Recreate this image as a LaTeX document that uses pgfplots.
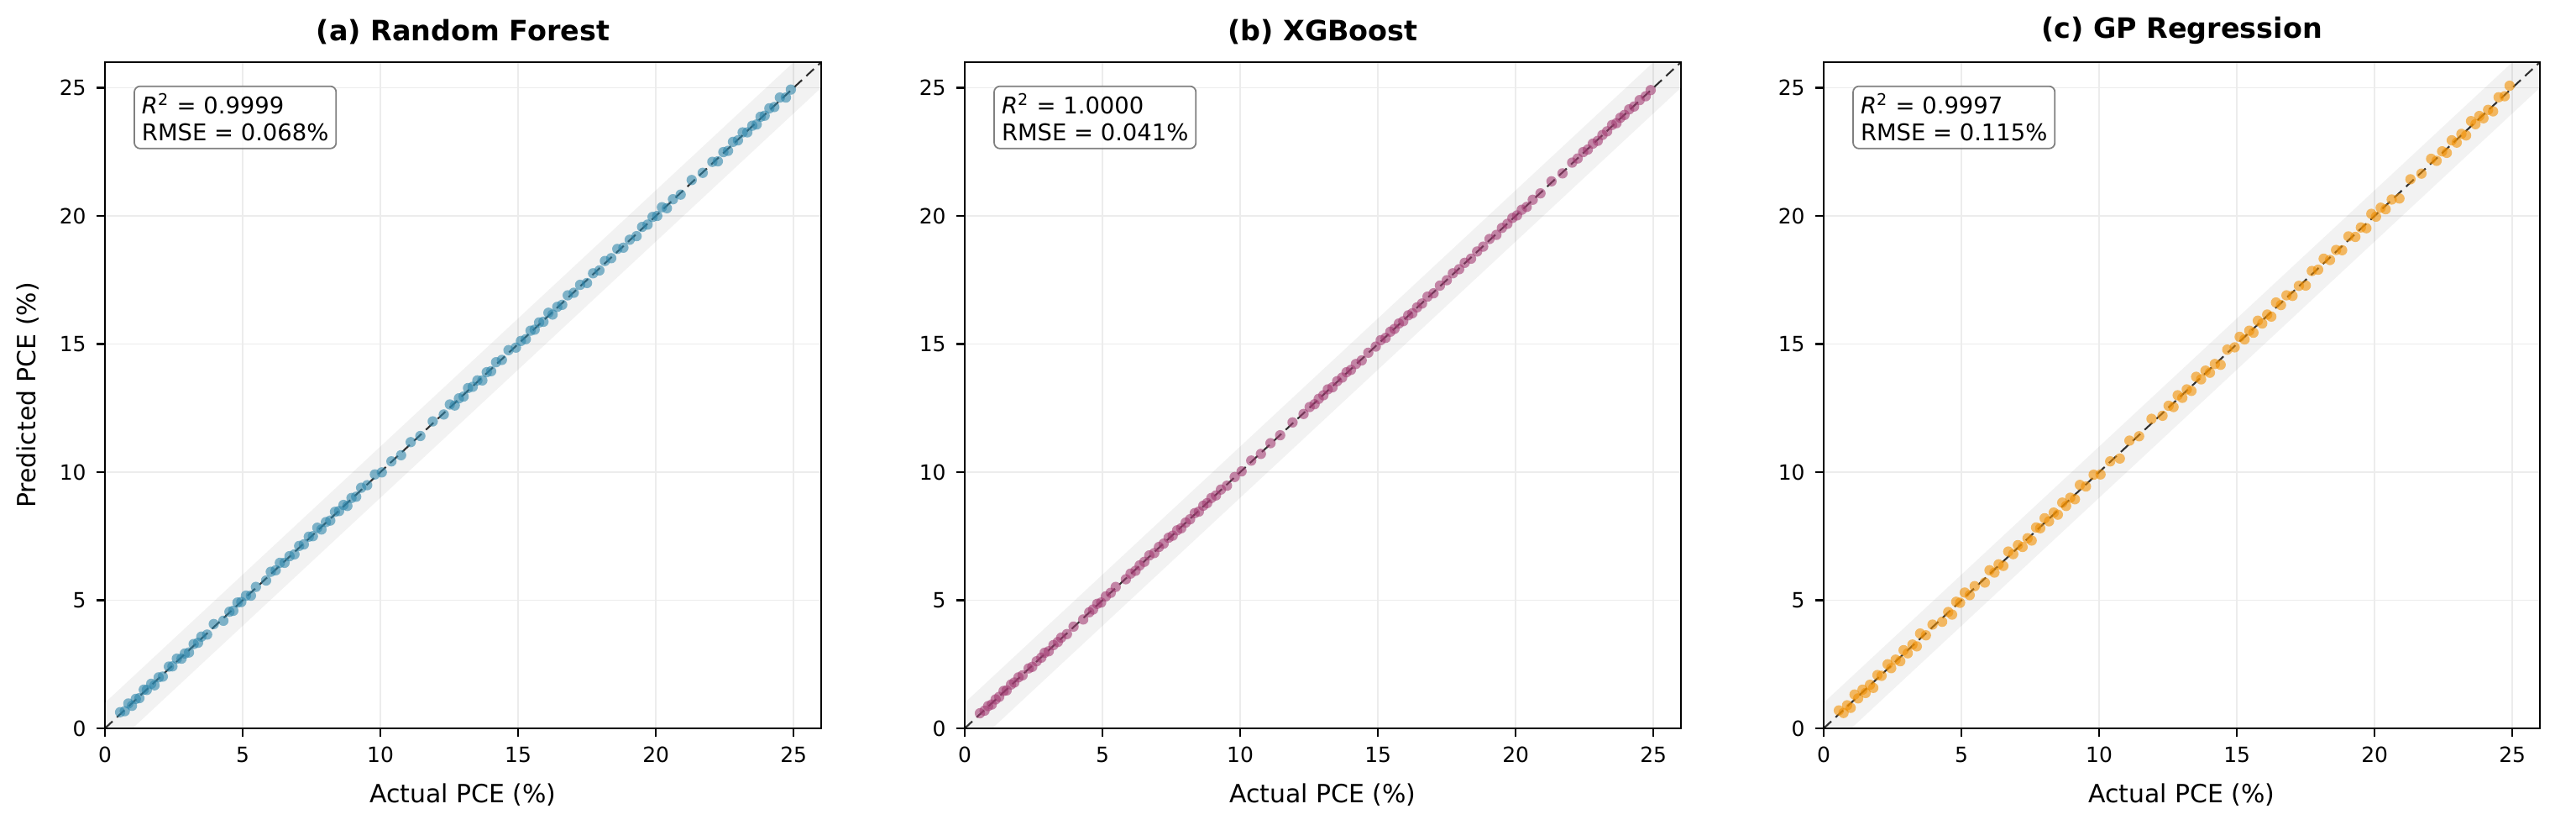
\documentclass[border=0pt]{standalone}
\usepackage{pgfplots}
\pgfplotsset{compat=1.18}
\usepackage{pgfplotstable}
\usepackage{fontspec}
\setmainfont{DejaVu Sans}
\definecolor{cRF}{HTML}{2E86AB}
\definecolor{cXG}{HTML}{A23B72}
\definecolor{cGP}{HTML}{F18F01}
\pgfplotstableread{
x yrf yxgb ygp
0.55 0.63 0.59 0.70
0.72 0.67 0.69 0.60
0.85 0.97 0.87 0.90
0.98 0.88 0.93 0.80
1.12 1.15 1.13 1.32
1.25 1.18 1.23 1.17
1.41 1.51 1.46 1.51
1.52 1.50 1.48 1.38
1.68 1.74 1.71 1.70
1.80 1.68 1.79 1.58
1.95 1.99 1.99 2.08
2.10 2.02 2.07 2.05
2.32 2.41 2.34 2.50
2.45 2.42 2.40 2.35
2.61 2.72 2.62 2.68
2.78 2.72 2.76 2.62
2.90 2.92 2.95 3.05
3.05 2.96 3.01 2.93
3.22 3.29 3.25 3.27
3.38 3.34 3.37 3.20
3.50 3.58 3.54 3.70
3.71 3.66 3.68 3.63
3.95 4.07 3.97 4.05
4.30 4.20 4.25 4.16
4.52 4.55 4.53 4.54
4.66 4.59 4.64 4.44
4.81 4.91 4.86 4.94
4.95 4.93 4.91 4.90
5.12 5.18 5.15 5.30
5.30 5.18 5.29 5.20
5.48 5.52 5.52 5.55
5.85 5.77 5.82 5.69
6.02 6.11 6.04 6.17
6.20 6.17 6.15 6.08
6.35 6.46 6.36 6.40
6.52 6.46 6.50 6.34
6.70 6.72 6.75 6.90
6.88 6.79 6.84 6.80
7.05 7.12 7.08 7.15
7.22 7.18 7.21 7.08
7.40 7.48 7.44 7.42
7.55 7.50 7.52 7.33
7.71 7.83 7.73 7.84
7.86 7.76 7.81 7.81
8.02 8.05 8.03 8.20
8.18 8.11 8.16 8.08
8.35 8.45 8.40 8.42
8.50 8.48 8.46 8.34
8.66 8.72 8.69 8.81
8.80 8.68 8.79 8.68
8.95 8.99 8.99 9.00
9.12 9.04 9.09 8.94
9.30 9.39 9.32 9.50
9.52 9.49 9.47 9.44
9.80 9.91 9.81 9.90
10.05 9.99 10.03 9.91
10.40 10.42 10.45 10.42
10.75 10.66 10.71 10.53
11.10 11.17 11.13 11.23
11.45 11.41 11.44 11.40
11.90 11.98 11.94 12.08
12.30 12.25 12.27 12.20
12.52 12.64 12.54 12.59
12.70 12.60 12.65 12.54
12.85 12.88 12.86 13.00
13.02 12.95 13.00 12.90
13.18 13.28 13.23 13.23
13.35 13.33 13.31 13.17
13.52 13.58 13.55 13.72
13.70 13.58 13.69 13.62
13.86 13.90 13.90 13.96
14.02 13.94 13.99 13.88
14.20 14.29 14.22 14.22
14.41 14.38 14.36 14.19
14.65 14.76 14.66 14.78
14.92 14.86 14.90 14.87
15.10 15.12 15.15 15.28
15.28 15.19 15.24 15.18
15.45 15.52 15.48 15.52
15.60 15.56 15.59 15.44
15.76 15.84 15.80 15.91
15.92 15.87 15.89 15.80
16.10 16.22 16.12 16.15
16.25 16.15 16.20 16.07
16.42 16.45 16.43 16.62
16.60 16.53 16.58 16.52
16.80 16.90 16.85 16.90
17.02 17.00 16.98 16.88
17.25 17.31 17.28 17.27
17.50 17.38 17.49 17.28
17.72 17.76 17.76 17.85
17.95 17.87 17.92 17.90
18.15 18.24 18.17 18.33
18.38 18.35 18.33 18.28
18.60 18.71 18.61 18.67
18.82 18.76 18.80 18.66
19.05 19.07 19.10 19.20
19.30 19.21 19.26 19.18
19.50 19.57 19.53 19.55
19.70 19.66 19.69 19.52
19.88 19.96 19.92 20.08
20.05 20.00 20.02 19.97
20.22 20.34 20.24 20.32
20.40 20.30 20.35 20.26
20.62 20.65 20.63 20.64
20.90 20.83 20.88 20.68
21.30 21.40 21.35 21.43
21.70 21.68 21.66 21.65
22.05 22.11 22.08 22.23
22.25 22.13 22.24 22.15
22.45 22.49 22.49 22.52
22.62 22.54 22.59 22.46
22.80 22.89 22.82 22.95
22.98 22.95 22.93 22.86
23.15 23.26 23.16 23.20
23.32 23.26 23.30 23.14
23.50 23.52 23.55 23.70
23.66 23.57 23.62 23.58
23.80 23.87 23.83 23.90
23.95 23.91 23.94 23.81
24.12 24.20 24.16 24.14
24.30 24.25 24.27 24.08
24.50 24.62 24.52 24.63
24.72 24.62 24.67 24.67
24.90 24.93 24.91 25.08
}\data
\pgfplotsset{
  myax/.style={
    scale only axis, width=8.53cm, height=7.93cm,
    anchor=south west,
    xmin=0, xmax=26, ymin=0, ymax=26,
    xtick={0,5,...,25}, ytick={0,5,...,25},
    tick pos=left,
    tick align=outside, major tick length=0.1cm,
    tick style={black, line width=0.6pt},
    axis line style={black, line width=0.8pt},
    grid=major, major grid style={gray!15, line width=0.5pt},
    /pgf/number format/assume math mode=true,
    tick label style={font=\fontsize{7.1}{8.5}\selectfont},
    label style={font=\fontsize{8.5}{10}\selectfont},
    xlabel={Actual PCE (\%)},
    title style={font=\fontsize{9.5}{11}\selectfont\bfseries, yshift=-3.5pt},
    clip=true,
  },
  band/.style={draw=none, fill=gray, fill opacity=0.1, forget plot},
  diag/.style={black, opacity=0.8, dash pattern=on 3.5pt off 2pt, line width=0.6pt, forget plot},
  pts/.style={only marks, mark=*, color=#1, mark size=1.75pt, mark options={fill=#1, fill opacity=0.6, draw opacity=0}},
}
\tikzset{
  infobox/.style={draw=gray, fill=white, fill opacity=0.8, text opacity=1, rounded corners=2pt, line width=0.5pt, anchor=north west, inner sep=0.09cm, align=left, font=\fontsize{7.8}{9}\selectfont},
}
\begin{document}
\begin{tikzpicture}
\path[use as bounding box] (0,0) rectangle (30.68,9.87);
\begin{axis}[myax, at={(1.25cm,1.20cm)}, title={(a) Random Forest}, ylabel={Predicted PCE (\%)}]
\addplot[band] coordinates {(0,-1) (26,25) (26,27) (0,1)};
\addplot[diag] coordinates {(0,0) (26,26)};
\addplot[pts=cRF] table[x=x, y=yrf] {\data};
\node[infobox] at (axis description cs:0.04,0.965) {\textit{R}\textsuperscript{2} = 0.9999\\RMSE = 0.068\%};
\end{axis}
\begin{axis}[myax, at={(11.49cm,1.20cm)}, title={(b) XGBoost}]
\addplot[band] coordinates {(0,-1) (26,25) (26,27) (0,1)};
\addplot[diag] coordinates {(0,0) (26,26)};
\addplot[pts=cXG] table[x=x, y=yxgb] {\data};
\node[infobox] at (axis description cs:0.04,0.965) {\textit{R}\textsuperscript{2} = 1.0000\\RMSE = 0.041\%};
\end{axis}
\begin{axis}[myax, at={(21.72cm,1.20cm)}, title={(c) GP Regression}]
\addplot[band] coordinates {(0,-1) (26,25) (26,27) (0,1)};
\addplot[diag] coordinates {(0,0) (26,26)};
\addplot[pts=cGP] table[x=x, y=ygp] {\data};
\node[infobox] at (axis description cs:0.04,0.965) {\textit{R}\textsuperscript{2} = 0.9997\\RMSE = 0.115\%};
\end{axis}
\end{tikzpicture}
\end{document}
